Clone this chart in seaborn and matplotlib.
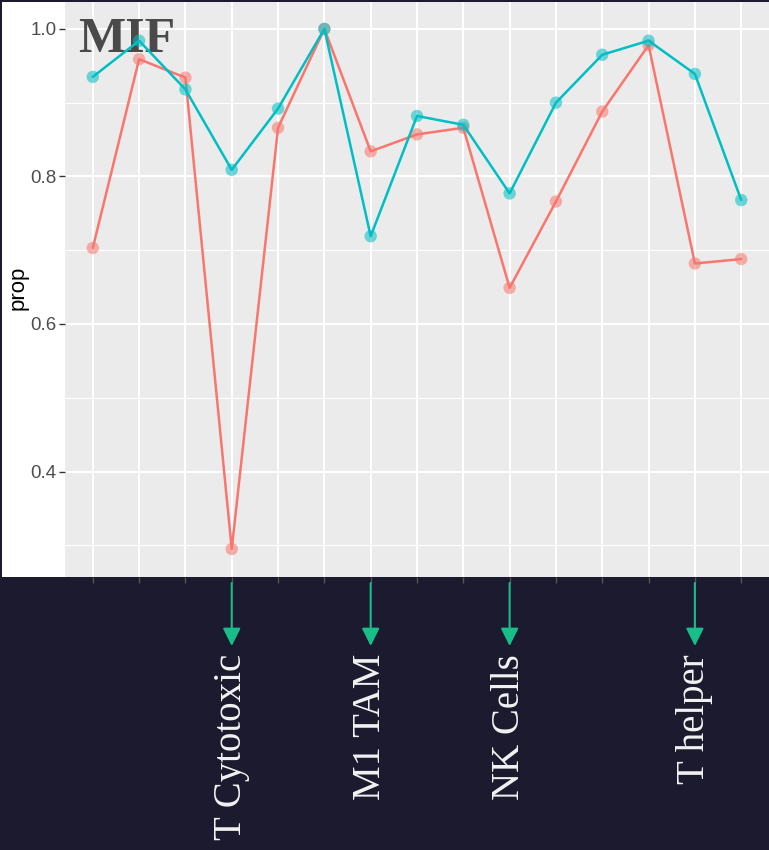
import matplotlib
matplotlib.use("Agg")
import matplotlib.pyplot as plt
from matplotlib.patches import Rectangle
import pandas as pd
import seaborn as sns

# ---- data -------------------------------------------------------------
positions = list(range(1, 16))
prop_red = [0.703, 0.959, 0.934, 0.295, 0.866, 1.000, 0.834, 0.857,
            0.866, 0.649, 0.766, 0.888, 0.978, 0.682, 0.688]
prop_teal = [0.935, 0.984, 0.918, 0.809, 0.892, 1.000, 0.719, 0.882,
             0.870, 0.777, 0.900, 0.965, 0.984, 0.939, 0.768]
groups = ["group_1", "group_2"]
highlight_pos = [4, 7, 10, 14]
highlight_labels = ["T Cytotoxic", "M1 TAM", "NK Cells", "T helper"]
y_major = [0.4, 0.6, 0.8, 1.0]
y_minor = [0.3, 0.5, 0.7, 0.9]
title = "MIF"

df = pd.DataFrame({
    "pos": positions * 2,
    "prop": prop_red + prop_teal,
    "group": [groups[0]] * len(positions) + [groups[1]] * len(positions),
})
palette = {groups[0]: "#F8766D", groups[1]: "#00BFC4"}

# ---- styling ----------------------------------------------------------
sns.set_theme(style="darkgrid", rc={"axes.facecolor": "#EBEBEB",
                                    "grid.color": "white"})
W, H = 769, 850
navy = "#1b1a2e"
green = "#17be87"

fig = plt.figure(figsize=(W / 100, H / 100), dpi=100, facecolor=navy)
fig.add_artist(Rectangle((2 / W, 273 / H), (W - 2) / W, 575 / H,
                         transform=fig.transFigure, facecolor="white",
                         edgecolor="none", zorder=-1))
ax = fig.add_axes([65 / W, 273 / H, 704 / W, 575 / H])

for i, g in enumerate(groups):
    sub = df[df["group"] == g]
    sns.lineplot(data=sub, x="pos", y="prop", color=palette[g],
                 linewidth=1.8, ax=ax, zorder=3 + 2 * i, legend=False)
    sns.scatterplot(data=sub, x="pos", y="prop", color=palette[g], s=80,
                    alpha=0.55, edgecolor="none", ax=ax, zorder=4 + 2 * i,
                    legend=False)

ax.set_xlim(positions[0] - 0.6, positions[-1] + 0.6)
ax.set_ylim(0.257, 1.0365)
ax.set_xticks(positions)
ax.set_xticklabels([])
ax.set_yticks(y_major)
ax.set_yticks(y_minor, minor=True)
ax.set_yticklabels([f"{v:.1f}" for v in y_major])
ax.grid(which="major", color="white", linewidth=1.5)
ax.grid(which="minor", axis="y", color="white", linewidth=0.8)
ax.set_axisbelow(True)
for s in ax.spines.values():
    s.set_visible(False)

ax.tick_params(axis="y", which="major", left=True, length=4, width=1,
               color="#333333", labelsize=13.5, labelcolor="#4d4d4d", pad=2)
ax.tick_params(axis="y", which="minor", left=False)
ax.tick_params(axis="x", bottom=True, length=4, width=1, color="#555555")
for t in ax.get_yticklabels():
    t.set_family("Liberation Sans")

ax.set_xlabel("")
ax.set_ylabel("prop", fontsize=16, family="Liberation Sans", color="black")
ax.yaxis.set_label_coords((29 - 65) / 704, 0.503)

# title sits beneath the data lines
ax.text(78 / W, (H - 52) / H, title, transform=fig.transFigure,
        fontsize=36, fontweight="bold", family="Liberation Serif",
        color="#4a4a4a", va="baseline", ha="left", zorder=2.5)

# arrows and labels pointing at selected cell types
for p, lab in zip(highlight_pos, highlight_labels):
    ax.annotate("", xy=(p, H - 646), xycoords=("data", "figure pixels"),
                xytext=(p, H - 583), textcoords=("data", "figure pixels"),
                arrowprops=dict(arrowstyle="-|>", color=green, lw=1.5,
                                mutation_scale=27, shrinkA=0, shrinkB=0),
                annotation_clip=False)
    ax.annotate(lab, xy=(p, H - 654), xycoords=("data", "figure pixels"),
                rotation=90, ha="center", va="top", fontsize=28,
                family="Liberation Serif", color="#f2f2f2",
                annotation_clip=False)

fig.savefig("out.png", dpi=100, facecolor=fig.get_facecolor())
